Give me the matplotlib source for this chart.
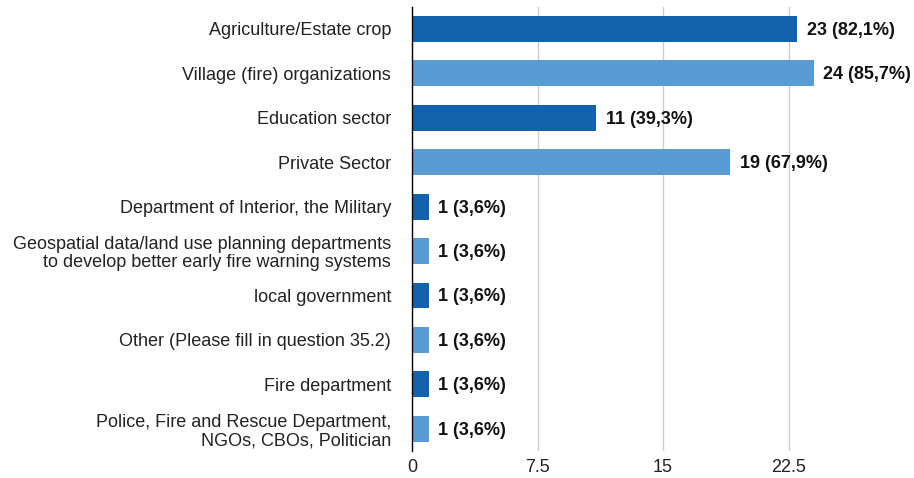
import matplotlib.pyplot as plt

categories = [
    'Agriculture/Estate crop',
    'Village (fire) organizations',
    'Education sector',
    'Private Sector',
    'Department of Interior, the Military',
    'Geospatial data/land use planning departments\nto develop better early fire warning systems',
    'local government',
    'Other (Please fill in question 35.2)',
    'Fire department',
    'Police, Fire and Rescue Department,\nNGOs, CBOs, Politician',
]
counts = [23, 24, 11, 19, 1, 1, 1, 1, 1, 1]
percents = ['82,1', '85,7', '39,3', '67,9', '3,6', '3,6', '3,6', '3,6', '3,6', '3,6']
ticks = [0, 7.5, 15, 22.5]

plt.rcParams['font.family'] = ['Liberation Sans', 'DejaVu Sans']

fig = plt.figure(figsize=(9.14, 4.78), dpi=100)
ax = fig.add_axes([0.4508, 0.0565, 0.5492, 0.9294])

colors = ['#1562ac' if i % 2 == 0 else '#5b9bd3' for i in range(len(counts))]
y = list(range(len(counts)))
ax.barh(y, counts, height=0.58, color=colors, zorder=3)

for yi, c, p in zip(y, counts, percents):
    ax.annotate(f'{c} ({p}%)', (c, yi), xytext=(7, -1), textcoords='offset points',
                va='center', ha='left', fontsize=13, fontweight='bold', color='#111111')

ax.set_xlim(0, 30)
ax.set_ylim(len(counts) - 0.5, -0.5)
ax.set_xticks(ticks)
ax.set_xticklabels(['0', '7.5', '15', '22.5'])
ax.set_yticks(y)
ax.set_yticklabels(categories, fontsize=13.2, color='#222222', linespacing=1.1)
ax.tick_params(axis='both', length=0, labelsize=13, colors='#222222')
ax.tick_params(axis='y', pad=15)
ax.tick_params(axis='x', pad=6)
ax.xaxis.grid(True, color='#cccccc', linewidth=1, zorder=0)
for s in ['top', 'right', 'bottom']:
    ax.spines[s].set_visible(False)
ax.spines['left'].set_color('#000000')
ax.spines['left'].set_linewidth(1)
ax.spines['left'].set_zorder(4)

fig.savefig('out.png', dpi=100)
